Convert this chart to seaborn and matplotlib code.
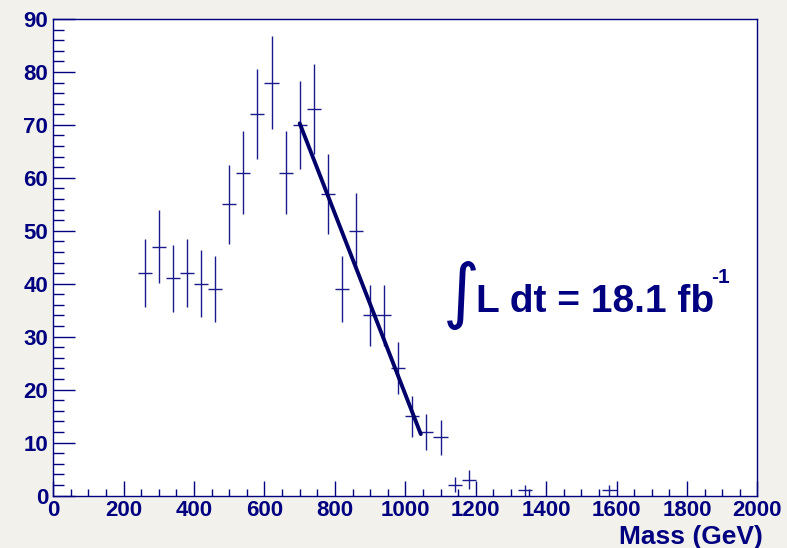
import matplotlib
matplotlib.use('Agg')
import matplotlib.pyplot as plt
from matplotlib.ticker import MultipleLocator
import seaborn as sns
import pandas as pd

# Mass histogram (40 GeV bins), counts and their errors
mass = [260, 300, 340, 380, 420, 460, 500, 540, 580, 620, 660, 700, 740,
        780, 820, 860, 900, 940, 980, 1020, 1060, 1100, 1140, 1180, 1340, 1580]
counts = [42, 47, 41, 42, 40, 39, 55, 61, 72, 78, 61, 70, 73,
          57, 39, 50, 34, 34, 24, 15, 12, 11, 2, 3, 1, 1]
errors = [6.48, 6.86, 6.40, 6.48, 6.32, 6.24, 7.42, 7.81, 8.49, 8.83, 7.81, 8.37, 8.54,
          7.55, 6.24, 7.07, 5.83, 5.83, 4.90, 3.87, 3.46, 3.32, 1.41, 1.73, 1.0, 1.0]
bin_half = 20

# fitted line
fit_x = [700, 1044]
fit_y = [70.3, 11.6]

df = pd.DataFrame({'mass': mass, 'counts': counts, 'err': errors})
df_fit = pd.DataFrame({'mass': fit_x, 'counts': fit_y})

sns.set_style('ticks')
plt.rcParams['font.family'] = ['Liberation Sans', 'DejaVu Sans']
plt.rcParams['font.weight'] = 'bold'

navy = '#000080'
bar_col = '#1a1a8c'
bg = '#f2f1eb'

fig = plt.figure(figsize=(7.87, 5.48), dpi=100, facecolor=bg)
ax = fig.add_axes([0.0677, 0.0958, 0.8946, 0.8695])
ax.set_facecolor('white')

ax.errorbar(df['mass'], df['counts'], xerr=bin_half, yerr=df['err'],
            fmt='none', ecolor=bar_col, elinewidth=1.0, capsize=0)
sns.lineplot(data=df_fit, x='mass', y='counts', ax=ax, color='#00006a',
             linewidth=2.8, solid_capstyle='round')

ax.set_xlim(0, 2000)
ax.set_ylim(0, 90)
ax.xaxis.set_major_locator(MultipleLocator(200))
ax.xaxis.set_minor_locator(MultipleLocator(50))
ax.yaxis.set_major_locator(MultipleLocator(10))
ax.yaxis.set_minor_locator(MultipleLocator(2))

for s in ax.spines.values():
    s.set_color(navy)
    s.set_linewidth(1.0)

ax.tick_params(axis='x', which='major', direction='in', length=10.8, width=1,
               color=navy, labelcolor=navy, labelsize=16, pad=3, top=False)
ax.tick_params(axis='x', which='minor', direction='in', length=5, width=1,
               color=navy, top=False)
ax.tick_params(axis='y', which='major', direction='in', length=15.6, width=1,
               color=navy, labelcolor=navy, labelsize=16, pad=3.6, right=False)
ax.tick_params(axis='y', which='minor', direction='in', length=7.8, width=1,
               color=navy, right=False)
for lab in ax.get_xticklabels() + ax.get_yticklabels():
    lab.set_fontweight('bold')

ax.set_xlabel('Mass (GeV)', fontsize=19, fontweight='bold', color=navy)
ax.set_ylabel('')
ax.xaxis.label.set_ha('right')
ax.xaxis.label.set_va('center')
ax.xaxis.set_label_coords(1.0085, -0.0867)

# luminosity label
ax.text(1160, 37.8, '\u222b', family='DejaVu Sans', fontsize=51, fontweight='normal',
        color=navy, ha='center', va='center')
ax.text(1202, 34.7, 'L dt = 18.1 fb', fontsize=28, fontweight='bold', color=navy,
        ha='left', va='baseline')
ax.text(1869, 40.1, '-1', fontsize=15, fontweight='bold', color=navy,
        ha='left', va='baseline')

fig.savefig('out.png', dpi=100, facecolor=bg)
